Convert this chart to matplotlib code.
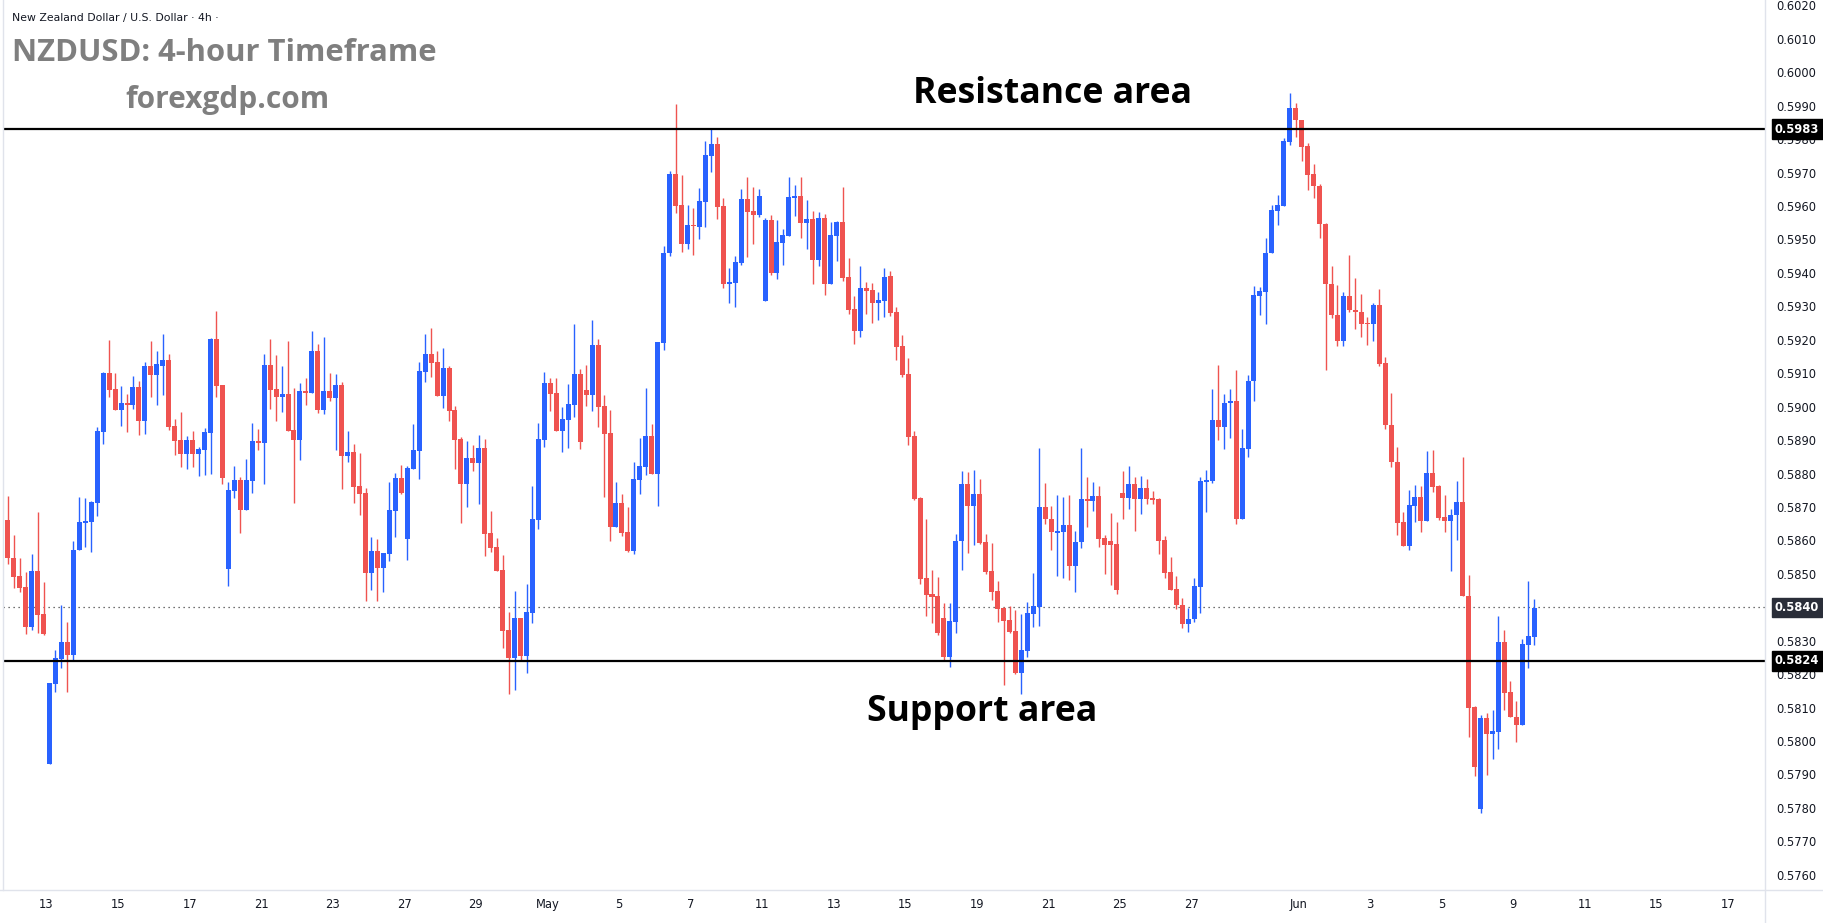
import numpy as np
import matplotlib
matplotlib.use("Agg")
import matplotlib.pyplot as plt
from matplotlib.lines import Line2D
from matplotlib.transforms import blended_transform_factory

# =====================================================
# 1. Candle data (NZDUSD 4h)
# =====================================================
open_ = [
    0.58662, 0.58548, 0.58494, 0.58461, 0.58342, 0.58509, 0.58380, 0.57930, 0.58171, 0.58245,
    0.58296, 0.58257, 0.58570, 0.58653, 0.58656, 0.58713, 0.58923, 0.59100, 0.59052, 0.58989,
    0.59010, 0.59004, 0.59058, 0.58956, 0.59121, 0.59094, 0.59121, 0.59139, 0.58941, 0.58899,
    0.58857, 0.58899, 0.58857, 0.58869, 0.58920, 0.59202, 0.59064, 0.58515, 0.58749, 0.58782,
    0.58692, 0.58779, 0.58896, 0.58890, 0.59124, 0.59052, 0.59028, 0.59037, 0.58929, 0.58899,
    0.59046, 0.59040, 0.59166, 0.58989, 0.59046, 0.59025, 0.59064, 0.58851, 0.58863, 0.58764,
    0.58743, 0.58503, 0.58569, 0.58518, 0.58560, 0.58689, 0.58788, 0.58605, 0.58815, 0.58866,
    0.59103, 0.59157, 0.59133, 0.59031, 0.59115, 0.58989, 0.58902, 0.58770, 0.58845, 0.58833,
    0.58875, 0.58623, 0.58581, 0.58512, 0.58332, 0.58248, 0.58368, 0.58254, 0.58383, 0.58662,
    0.58899, 0.59070, 0.59040, 0.58926, 0.58959, 0.59004, 0.59097, 0.59049, 0.59034, 0.59184,
    0.59001, 0.58920, 0.58641, 0.58713, 0.58626, 0.58569, 0.58782, 0.58821, 0.58911, 0.58800,
    0.59190, 0.59460, 0.59695, 0.59602, 0.59485, 0.59542, 0.59536, 0.59611, 0.59749, 0.59785,
    0.59599, 0.59368, 0.59371, 0.59431, 0.59620, 0.59584, 0.59572, 0.59317, 0.59557, 0.59401,
    0.59488, 0.59509, 0.59623, 0.59629, 0.59548, 0.59560, 0.59440, 0.59563, 0.59368, 0.59509,
    0.59551, 0.59389, 0.59293, 0.59227, 0.59356, 0.59350, 0.59311, 0.59317, 0.59390, 0.59283,
    0.59181, 0.59097, 0.58911, 0.58728, 0.58488, 0.58440, 0.58434, 0.58368, 0.58252, 0.58357,
    0.58597, 0.58770, 0.58702, 0.58740, 0.58596, 0.58509, 0.58449, 0.58398, 0.58362, 0.58329,
    0.58204, 0.58270, 0.58381, 0.58402, 0.58701, 0.58665, 0.58623, 0.58624, 0.58647, 0.58525,
    0.58594, 0.58725, 0.58719, 0.58734, 0.58608, 0.58597, 0.58589, 0.58742, 0.58728, 0.58770,
    0.58723, 0.58757, 0.58727, 0.58723, 0.58600, 0.58505, 0.58455, 0.58406, 0.58349, 0.58364,
    0.58461, 0.58776, 0.58778, 0.58961, 0.58938, 0.59011, 0.59017, 0.58665, 0.58873, 0.59076,
    0.59331, 0.59343, 0.59459, 0.59586, 0.59601, 0.59790, 0.59894, 0.59858, 0.59779, 0.59695,
    0.59659, 0.59545, 0.59367, 0.59275, 0.59196, 0.59332, 0.59290, 0.59284, 0.59250, 0.59247,
    0.59305, 0.59130, 0.58946, 0.58836, 0.58655, 0.58582, 0.58704, 0.58729, 0.58659, 0.58803,
    0.58762, 0.58670, 0.58659, 0.58675, 0.58714, 0.58435, 0.58102, 0.57797, 0.58070, 0.58021,
    0.58026, 0.58295, 0.58147, 0.58073, 0.58047, 0.58288, 0.58311,
]

high = [
    0.58732, 0.58617, 0.58548, 0.58506, 0.58560, 0.58686, 0.58476, 0.58173, 0.58272, 0.58407,
    0.58356, 0.58599, 0.58731, 0.58728, 0.58719, 0.58938, 0.59103, 0.59199, 0.59100, 0.59061,
    0.59037, 0.59091, 0.59076, 0.59133, 0.59196, 0.59166, 0.59217, 0.59157, 0.58962, 0.58983,
    0.58911, 0.58926, 0.58878, 0.58935, 0.59205, 0.59286, 0.59064, 0.58776, 0.58824, 0.58791,
    0.58842, 0.58950, 0.58932, 0.59157, 0.59202, 0.59154, 0.59121, 0.59196, 0.59055, 0.59070,
    0.59085, 0.59226, 0.59187, 0.59208, 0.59100, 0.59097, 0.59073, 0.58926, 0.58887, 0.58860,
    0.58758, 0.58611, 0.58605, 0.58563, 0.58776, 0.58803, 0.58827, 0.58824, 0.58947, 0.59133,
    0.59217, 0.59235, 0.59166, 0.59175, 0.59121, 0.59001, 0.58908, 0.58896, 0.58884, 0.58914,
    0.58902, 0.58689, 0.58608, 0.58557, 0.58386, 0.58449, 0.58368, 0.58470, 0.58764, 0.58950,
    0.59103, 0.59085, 0.59085, 0.58998, 0.59067, 0.59247, 0.59112, 0.59124, 0.59259, 0.59202,
    0.59034, 0.58989, 0.58776, 0.58740, 0.58701, 0.58836, 0.58905, 0.59055, 0.58947, 0.59193,
    0.59480, 0.59705, 0.59905, 0.59692, 0.59602, 0.59593, 0.59653, 0.59794, 0.59833, 0.59806,
    0.59623, 0.59416, 0.59452, 0.59650, 0.59686, 0.59656, 0.59650, 0.59563, 0.59572, 0.59557,
    0.59530, 0.59686, 0.59662, 0.59686, 0.59617, 0.59584, 0.59581, 0.59575, 0.59551, 0.59554,
    0.59656, 0.59446, 0.59332, 0.59422, 0.59374, 0.59371, 0.59344, 0.59416, 0.59405, 0.59298,
    0.59214, 0.59145, 0.58926, 0.58731, 0.58665, 0.58512, 0.58491, 0.58413, 0.58413, 0.58620,
    0.58809, 0.58806, 0.58812, 0.58785, 0.58620, 0.58593, 0.58479, 0.58402, 0.58404, 0.58392,
    0.58380, 0.58416, 0.58503, 0.58875, 0.58773, 0.58704, 0.58737, 0.58731, 0.58737, 0.58629,
    0.58875, 0.58791, 0.58776, 0.58764, 0.58615, 0.58683, 0.58654, 0.58808, 0.58822, 0.58789,
    0.58794, 0.58783, 0.58748, 0.58728, 0.58612, 0.58549, 0.58494, 0.58429, 0.58398, 0.58488,
    0.58791, 0.58811, 0.59052, 0.59124, 0.59038, 0.59054, 0.59110, 0.58933, 0.59095, 0.59361,
    0.59359, 0.59503, 0.59603, 0.59632, 0.59803, 0.59939, 0.59907, 0.59858, 0.59789, 0.59727,
    0.59665, 0.59550, 0.59420, 0.59364, 0.59343, 0.59455, 0.59386, 0.59338, 0.59269, 0.59311,
    0.59353, 0.59148, 0.59041, 0.58879, 0.58685, 0.58750, 0.58767, 0.58764, 0.58868, 0.58871,
    0.58767, 0.58735, 0.58693, 0.58777, 0.58848, 0.58497, 0.58105, 0.58078, 0.58084, 0.58094,
    0.58373, 0.58332, 0.58181, 0.58121, 0.58304, 0.58480, 0.58424,
]

low = [
    0.58530, 0.58459, 0.58447, 0.58321, 0.58333, 0.58324, 0.58318, 0.57930, 0.58147, 0.58219,
    0.58147, 0.58240, 0.58570, 0.58581, 0.58564, 0.58674, 0.58887, 0.59028, 0.58989, 0.58941,
    0.58923, 0.58992, 0.58914, 0.58917, 0.59030, 0.59006, 0.59034, 0.58929, 0.58854, 0.58821,
    0.58815, 0.58821, 0.58794, 0.58797, 0.58800, 0.59028, 0.58770, 0.58464, 0.58728, 0.58623,
    0.58692, 0.58743, 0.58869, 0.58770, 0.58992, 0.58956, 0.58983, 0.58926, 0.58713, 0.58839,
    0.59004, 0.59040, 0.58980, 0.58977, 0.59016, 0.58869, 0.58755, 0.58836, 0.58713, 0.58677,
    0.58419, 0.58452, 0.58419, 0.58446, 0.58539, 0.58611, 0.58740, 0.58542, 0.58815, 0.58785,
    0.59073, 0.59088, 0.59031, 0.58995, 0.58956, 0.58815, 0.58653, 0.58701, 0.58809, 0.58710,
    0.58554, 0.58566, 0.58509, 0.58278, 0.58140, 0.58152, 0.58242, 0.58203, 0.58353, 0.58635,
    0.58878, 0.58986, 0.58926, 0.58863, 0.58875, 0.58968, 0.58872, 0.59001, 0.58986, 0.58938,
    0.58731, 0.58599, 0.58641, 0.58614, 0.58566, 0.58560, 0.58740, 0.58797, 0.58800, 0.58704,
    0.59169, 0.59450, 0.59579, 0.59464, 0.59470, 0.59455, 0.59500, 0.59536, 0.59701, 0.59560,
    0.59356, 0.59311, 0.59299, 0.59425, 0.59449, 0.59485, 0.59566, 0.59317, 0.59395, 0.59383,
    0.59425, 0.59509, 0.59569, 0.59503, 0.59470, 0.59368, 0.59422, 0.59335, 0.59368, 0.59437,
    0.59377, 0.59278, 0.59188, 0.59209, 0.59278, 0.59251, 0.59260, 0.59269, 0.59270, 0.59140,
    0.59088, 0.58884, 0.58722, 0.58471, 0.58375, 0.58354, 0.58318, 0.58243, 0.58222, 0.58324,
    0.58513, 0.58561, 0.58585, 0.58590, 0.58500, 0.58423, 0.58357, 0.58168, 0.58324, 0.58201,
    0.58141, 0.58252, 0.58342, 0.58345, 0.58648, 0.58570, 0.58495, 0.58489, 0.58483, 0.58447,
    0.58576, 0.58639, 0.58689, 0.58579, 0.58500, 0.58468, 0.58440, 0.58665, 0.58694, 0.58627,
    0.58680, 0.58709, 0.58709, 0.58560, 0.58487, 0.58453, 0.58396, 0.58339, 0.58327, 0.58355,
    0.58384, 0.58686, 0.58771, 0.58900, 0.58872, 0.58906, 0.58649, 0.58665, 0.58850, 0.59017,
    0.59274, 0.59248, 0.59459, 0.59544, 0.59601, 0.59782, 0.59807, 0.59736, 0.59648, 0.59624,
    0.59503, 0.59109, 0.59265, 0.59181, 0.59181, 0.59282, 0.59232, 0.59208, 0.59184, 0.59196,
    0.59122, 0.58932, 0.58820, 0.58615, 0.58582, 0.58570, 0.58656, 0.58626, 0.58659, 0.58745,
    0.58661, 0.58626, 0.58510, 0.58600, 0.58433, 0.58011, 0.57895, 0.57786, 0.57899, 0.57946,
    0.57977, 0.58094, 0.58071, 0.57996, 0.58047, 0.58219, 0.58288,
]

close = [
    0.58546, 0.58492, 0.58459, 0.58342, 0.58509, 0.58378, 0.58321, 0.58173, 0.58248, 0.58296,
    0.58257, 0.58572, 0.58656, 0.58659, 0.58716, 0.58926, 0.59100, 0.59049, 0.58989, 0.59010,
    0.59004, 0.59058, 0.58956, 0.59121, 0.59094, 0.59127, 0.59139, 0.58938, 0.58896, 0.58857,
    0.58899, 0.58857, 0.58872, 0.58923, 0.59202, 0.59061, 0.58788, 0.58752, 0.58782, 0.58692,
    0.58782, 0.58896, 0.58890, 0.59124, 0.59049, 0.59028, 0.59037, 0.58926, 0.58899, 0.59046,
    0.59040, 0.59166, 0.58989, 0.59046, 0.59025, 0.59064, 0.58851, 0.58863, 0.58761, 0.58740,
    0.58503, 0.58569, 0.58518, 0.58563, 0.58692, 0.58788, 0.58743, 0.58818, 0.58869, 0.59106,
    0.59157, 0.59130, 0.59031, 0.59115, 0.58986, 0.58899, 0.58770, 0.58845, 0.58833, 0.58875,
    0.58620, 0.58578, 0.58509, 0.58329, 0.58248, 0.58368, 0.58254, 0.58386, 0.58665, 0.58902,
    0.59070, 0.59037, 0.58926, 0.58962, 0.59007, 0.59097, 0.58893, 0.59034, 0.59184, 0.58998,
    0.58917, 0.58641, 0.58713, 0.58623, 0.58569, 0.58785, 0.58824, 0.58911, 0.58800, 0.59193,
    0.59460, 0.59695, 0.59599, 0.59485, 0.59542, 0.59539, 0.59614, 0.59752, 0.59785, 0.59596,
    0.59368, 0.59374, 0.59434, 0.59620, 0.59581, 0.59572, 0.59629, 0.59557, 0.59401, 0.59491,
    0.59512, 0.59626, 0.59629, 0.59548, 0.59560, 0.59440, 0.59563, 0.59368, 0.59512, 0.59551,
    0.59386, 0.59290, 0.59227, 0.59356, 0.59347, 0.59311, 0.59320, 0.59389, 0.59280, 0.59179,
    0.59094, 0.58909, 0.58725, 0.58486, 0.58438, 0.58432, 0.58324, 0.58252, 0.58359, 0.58599,
    0.58770, 0.58702, 0.58740, 0.58593, 0.58506, 0.58447, 0.58396, 0.58360, 0.58327, 0.58204,
    0.58272, 0.58383, 0.58404, 0.58701, 0.58663, 0.58624, 0.58627, 0.58647, 0.58525, 0.58596,
    0.58725, 0.58719, 0.58734, 0.58603, 0.58586, 0.58586, 0.58452, 0.58728, 0.58770, 0.58723,
    0.58757, 0.58725, 0.58720, 0.58598, 0.58503, 0.58453, 0.58406, 0.58349, 0.58366, 0.58463,
    0.58778, 0.58781, 0.58961, 0.58938, 0.59012, 0.59017, 0.58665, 0.58875, 0.59078, 0.59334,
    0.59345, 0.59461, 0.59588, 0.59604, 0.59793, 0.59894, 0.59856, 0.59776, 0.59693, 0.59659,
    0.59545, 0.59367, 0.59273, 0.59196, 0.59332, 0.59288, 0.59282, 0.59247, 0.59247, 0.59305,
    0.59128, 0.58944, 0.58834, 0.58653, 0.58582, 0.58705, 0.58729, 0.58659, 0.58803, 0.58760,
    0.58668, 0.58659, 0.58675, 0.58714, 0.58433, 0.58100, 0.57922, 0.58069, 0.58021, 0.58029,
    0.58295, 0.58145, 0.58071, 0.58047, 0.58289, 0.58313, 0.58398,
]

# time axis labels (one every 2 trading days, 12 candles)
date_labels = ["13", "15", "17", "21", "23", "27", "29", "May", "5", "7", "11", "13",
               "15", "19", "21", "25", "27", "Jun", "3", "5", "9", "11", "15", "17"]
date_slots = [6.5, 18.5, 30.5, 42.5, 54.5, 66.5, 78.5, 90.5, 102.5, 114.5, 126.5, 138.5,
              150.5, 162.5, 174.5, 186.5, 198.5, 216.5, 228.5, 240.5, 252.5, 264.5, 276.5, 288.5]

resistance = 0.5983
support = 0.5824
last_price = 0.5840

# =====================================================
# 2. Figure / axes (pixel based layout)
# =====================================================
W, H = 1824, 923
UP = "#2962ff"
DOWN = "#ef5350"
TXT = "#131722"
GRID = "#e0e3eb"

fig = plt.figure(figsize=(W / 100, H / 100), dpi=100)
fig.patch.set_facecolor("white")

ax_l, ax_r, ax_b = 3, 1765, 890
ax = fig.add_axes([ax_l / W, (H - ax_b) / H, (ax_r - ax_l) / W, ax_b / H])
ax.set_facecolor("white")

x = np.arange(len(open_))
o = np.array(open_)
c = np.array(close)
h = np.array(high)
l = np.array(low)
colors = np.where(c >= o, UP, DOWN)

# wicks
ax.vlines(x, l, h, colors=colors, linewidth=1.0, zorder=2)
# bodies
body_bot = np.minimum(o, c)
body_h = np.maximum(np.abs(c - o), 0.00003)
ax.bar(x, body_h, bottom=body_bot, width=0.84, color=colors, linewidth=0, zorder=3)

# support / resistance + last price
ax.axhline(resistance, color="black", linewidth=1.6, zorder=4)
ax.axhline(support, color="black", linewidth=1.6, zorder=4)
ax.axhline(last_price, color="#444444", linewidth=0.9, linestyle=(0, (1, 3)), zorder=1)

ax.set_xlim(-0.8, 294.7)
ax.set_ylim(0.575546, 0.602161)

# price scale on the right
price_ticks = [0.5760 + 0.001 * k for k in range(27)]
ax.yaxis.tick_right()
ax.set_yticks(price_ticks)
ax.set_yticklabels([f"{p:.4f}" for p in price_ticks])
ax.tick_params(axis="y", length=0, pad=8, labelsize=8.3, labelcolor=TXT)

ax.set_xticks(date_slots)
ax.set_xticklabels(date_labels)
ax.tick_params(axis="x", length=0, pad=6, labelsize=8.3, labelcolor=TXT)

for s in ax.spines.values():
    s.set_visible(False)

# borders of the chart pane
fig.add_artist(Line2D([0, 1], [(H - ax_b) / H] * 2, color=GRID, linewidth=1.0))
fig.add_artist(Line2D([ax_r / W] * 2, [0, 1], color=GRID, linewidth=1.0))
fig.add_artist(Line2D([ax_l / W] * 2, [(H - ax_b) / H, 1], color=GRID, linewidth=1.0))

# price tags on the scale
tr = blended_transform_factory(fig.transFigure, ax.transData)
for val, bg in [(resistance, "black"), (support, "black"), (last_price, "#2a2e39")]:
    ax.text(1775 / W, val, f"{val:.4f}", transform=tr, ha="left", va="center",
            fontsize=8.3, fontweight="bold", color="white", zorder=10, clip_on=False,
            bbox=dict(boxstyle="square,pad=0.28", facecolor=bg, edgecolor=bg))

# =====================================================
# 3. Texts
# =====================================================
fig.text(12 / W, 1 - 18 / H, "New Zealand Dollar / U.S. Dollar \u00b7 4h \u00b7",
         fontsize=7.85, color=TXT, ha="left", va="center")
fig.text(12 / W, 1 - 53 / H, "NZDUSD: 4-hour Timeframe", fontsize=22.3,
         fontweight="bold", color="#7f7f7f", ha="left", va="center",
         family=["Open Sans", "DejaVu Sans"])
fig.text(125 / W, 1 - 100 / H, "forexgdp.com", fontsize=21.5,
         fontweight="bold", color="#7f7f7f", ha="left", va="center",
         family=["Open Sans", "DejaVu Sans"])

fig.text(1053 / W, 1 - 94 / H, "Resistance area", fontsize=25.7, fontweight="bold",
         color="black", ha="center", va="center", family=["Open Sans", "DejaVu Sans"])
fig.text(982 / W, 1 - 712 / H, "Support area", fontsize=25.7, fontweight="bold",
         color="black", ha="center", va="center", family=["Open Sans", "DejaVu Sans"])

fig.savefig("out.png", dpi=100, facecolor="white")
